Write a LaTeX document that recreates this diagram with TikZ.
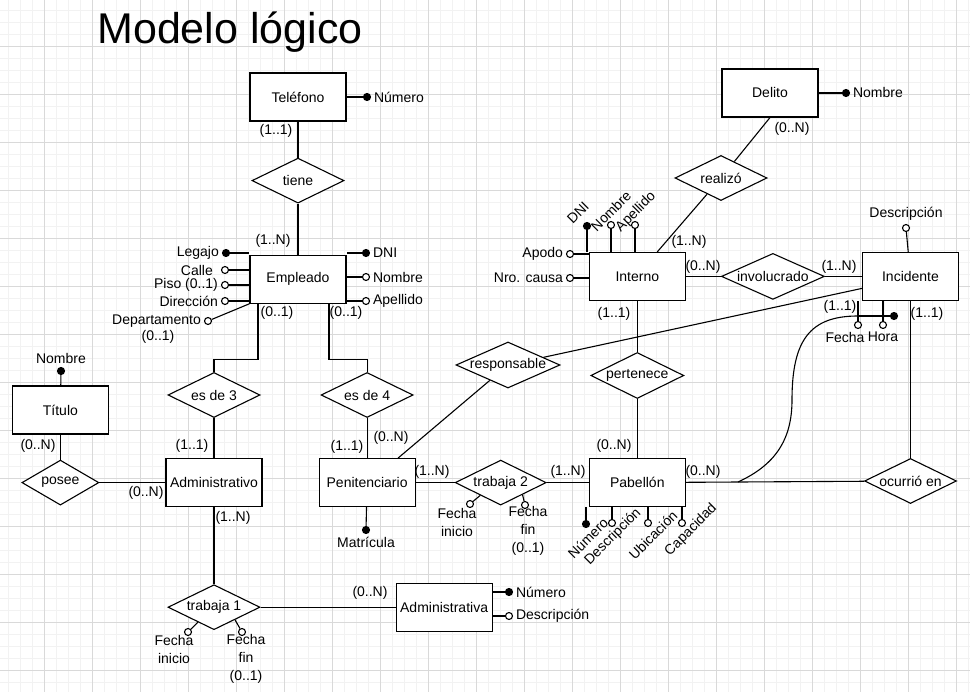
\documentclass[tikz,border=0pt]{standalone}
\usepackage{fontspec}
\setmainfont{Liberation Sans}
\usetikzlibrary{shapes.geometric, positioning}
\newcommand{\erfont}{\fontsize{14}{18}\selectfont}
\newcommand{\rtext}[1]{\makebox[0pt]{#1}}
\tikzstyle{entity} = [rectangle, minimum width=96pt, minimum height=48pt, inner sep=0pt, text centered, draw=black, fill=white, font=\erfont]
\tikzstyle{rel} = [diamond, minimum width=92pt, minimum height=45pt, inner sep=0pt, draw=black, fill=white, font=\erfont]
\tikzstyle{attr} = [circle, minimum size=7pt, inner sep=0pt, draw=black, fill=white]
\tikzstyle{keyattr} = [circle, minimum size=7pt, inner sep=0pt, draw=black, fill=black]
\tikzstyle{lbl} = [font=\erfont, inner sep=2.5pt, align=center]
\tikzstyle{card} = [font=\erfont, inner sep=0pt]
\tikzstyle{minorgrid} = [line width=0.6pt, black!5]
\tikzstyle{majorgrid} = [line width=0.8pt, black!15]

\begin{document}
\begin{tikzpicture}[x=1pt, y=-1pt, line width=1.1pt, every label/.style={lbl}]

 \useasboundingbox (0,0) rectangle (970,692);
 \fill[white] (0,0) rectangle (970,692);
 \foreach \x in {8,20,...,968} \draw[minorgrid] (\x,0) -- (\x,692);
 \foreach \y in {10,22,...,682} \draw[minorgrid] (0,\y) -- (970,\y);
 \foreach \x in {44,92,...,956} \draw[majorgrid] (\x,0) -- (\x,692);
 \foreach \y in {46,94,...,670} \draw[majorgrid] (0,\y) -- (970,\y);

 \node (title) [anchor=base, inner sep=0pt, font=\fontsize{43}{50}\selectfont] at (230,44) {Modelo lógico};

 \node (tel) [entity] at (298,97) {Teléfono};
 \node (tiene) [rel, below=36pt of tel] {\rtext{tiene}};
 \node (emp) [entity, below=51pt of tiene] {Empleado};
 \node (es3) [rel] at (214,395) {\rtext{es de 3}};
 \node (es4) [rel, right=60pt of es3] {\rtext{es de 4}};
 \node (adm) [entity, below=40pt of es3] {Administrativo};
 \node (peni) [entity, below=40pt of es4] {Penitenciario};
 \node (posee) [rel, minimum width=77pt, left=66pt of adm] {\rtext{posee}};
 \node (tit) [entity, above=25pt of posee] {Título};
 \node (trab1) [rel, below=77pt of adm] {\rtext{trabaja 1}};
 \node (admva) [entity, right=135pt of trab1] {Administrativa};
 \node (trab2) [rel, minimum width=91pt, right=39pt of peni] {\rtext{trabaja 2}};
 \node (pab) [entity, right=42pt of trab2] {Pabellón};
 \node (pert) [rel, minimum width=93pt, minimum height=46pt, above=59pt of pab] {\rtext{pertenece}};
 \node (int) [entity, above=51pt of pert] {Interno};
 \node (inv) [rel, minimum width=103pt, minimum height=46pt, right=35pt of int] {\rtext{involucrado}};
 \node (inc) [entity, right=37pt of inv] {Incidente};
 \node (ocu) [rel, below=157pt of inc] {\rtext{ocurrió en}};
 \node (real) [rel] at (721,178) {\rtext{realizó}};
 \node (del) [entity] at (770,93) {Delito};
 \node (resp) [rel, minimum width=104pt, minimum height=46pt] at (508,365) {\rtext{responsable}};

 \node (numTel) [keyattr, label=right:Número] at (367,97) {};
 \node (leg) [keyattr, label=left:Legajo] at (226,253) {};
 \node (calle) [attr, label={[xshift=-5pt]left:Calle}] at (225,270) {};
 \node (piso) [attr, label=left:Piso (0..1)] at (225,285) {};
 \node (dir) [attr, label=left:Dirección] at (225,301) {};
 \node (dep) [attr, label=left:Departamento] at (208,321) {};
 \node (dniE) [keyattr, label=right:DNI] at (366,253) {};
 \node (nomE) [attr, label=right:Nombre] at (366,277) {};
 \node (apeE) [attr, label=right:Apellido] at (366,301) {};
 \node (nomTit) [keyattr, label=above:Nombre] at (61,371) {};
 \node (matr) [keyattr, label=below:Matrícula] at (366,530) {};
 \node (fi1) [attr] at (188,632) {};
 \node (ff1) [attr] at (242,632) {};
 \node (fi2) [attr] at (470,504) {};
 \node (ff2) [attr] at (525,505) {};
 \node (numA) [keyattr, label=right:Número] at (509,592) {};
 \node (desA) [attr, label=right:Descripción] at (509,616) {};
 \node (nomD) [keyattr, label=right:Nombre] at (846,93) {};
 \node (apo) [attr, label=left:Apodo] at (570,254) {};
 \node (nro) [attr, label=left:Nro. causa] at (570,278) {};
 \node (dniI) [keyattr] at (587,226) {};
 \node (nomI) [attr] at (611,225) {};
 \node (apeI) [attr] at (635,225) {};
 \node (desInc) [attr, label=above:Descripción] at (906,228) {};
 \node (fec) [attr, label={[xshift=-13pt]below:Fecha}] at (858,325) {};
 \node (hor) [attr, label=below:Hora] at (883,325) {};
 \node (idInc) [keyattr] at (894,316) {};
 \node (numP) [keyattr] at (586,524) {};
 \node (desP) [attr] at (612,523) {};
 \node (ubiP) [attr] at (648,523) {};
 \node (capP) [attr] at (682,523) {};
 \coordinate (cv) at (738,482);

 \node (tDniI) [lbl, rotate=45] at (578,213) {DNI};
 \node (tNomI) [lbl, rotate=45] at (611,211) {Nombre};
 \node (tApeI) [lbl, rotate=45] at (636,212) {Apellido};
 \node (tNumP) [lbl, rotate=45] at (588,538) {Número};
 \node (tDesP) [lbl, rotate=45] at (613,537) {Descripción};
 \node (tUbiP) [lbl, rotate=45] at (653,535) {Ubicación};
 \node (tCapP) [lbl, rotate=45] at (691,530) {Capacidad};
 \node (tfi1) [lbl] at (174,649) {Fecha\\inicio};
 \node (tff1) [lbl] at (246,659) {Fecha\\fin\\(0..1)};
 \node (tfi2) [lbl] at (457,522) {Fecha\\inicio};
 \node (tff2) [lbl] at (528,531) {Fecha\\fin\\(0..1)};
 \node (tDep) [card] at (158,337) {(0..1)};

 \node (cTel) [card] at (276,131) {(1..1)};
 \node (cEmpT) [card] at (273,241) {(1..N)};
 \node (cEmpL) [card] at (277,313) {(0..1)};
 \node (cEmpR) [card] at (346,313) {(0..1)};
 \node (cAdmT) [card] at (192,446) {(1..1)};
 \node (cAdmL) [card] at (146,493) {(0..N)};
 \node (cAdmB) [card] at (233,518) {(1..N)};
 \node (cAdmva) [card] at (370,593) {(0..N)};
 \node (cTit) [card] at (38,446) {(0..N)};
 \node (cPeniT) [card] at (347,447) {(1..1)};
 \node (cPeniR) [card] at (391,438) {(0..N)};
 \node (cPeniE) [card] at (432,472) {(1..N)};
 \node (cPabL) [card] at (568,472) {(1..N)};
 \node (cPabT) [card] at (614,446) {(0..N)};
 \node (cPabR) [card] at (703,472) {(0..N)};
 \node (cIntB) [card] at (614,314) {(1..1)};
 \node (cIntT) [card] at (689,242) {(1..N)};
 \node (cIntR) [card] at (703,267) {(0..N)};
 \node (cIncL) [card] at (839,267) {(1..N)};
 \node (cIncB) [card] at (840,307) {(1..1)};
 \node (cIncR) [card] at (927,314) {(1..1)};
 \node (cDel) [card] at (792,129) {(0..N)};

 \draw (tel) -- (tiene);
 \draw (tiene) -- (emp);
 \draw ([xshift=-40pt]emp.south) -- ++(0,56) -| (es3.north);
 \draw ([xshift=31pt]emp.south) -- ++(0,56) -| (es4.north);
 \draw (es3) -- (adm);
 \draw (es4) -- (peni);
 \draw (tit) -- (posee);
 \draw (posee) -- (adm);
 \draw (adm) -- (trab1);
 \draw (trab1) -- (admva);
 \draw (peni) -- (trab2);
 \draw (trab2) -- (pab);
 \draw (pab) -- (pert);
 \draw (pert) -- (int);
 \draw (int) -- (inv);
 \draw (inv) -- (inc);
 \draw (inc) -- (ocu);
 \draw (pab) -- (ocu);
 \draw ([xshift=20pt]int.north) -- (real);
 \draw (real) -- (del.south);
 \draw ([xshift=31pt]peni.north) -- (resp);
 \draw (resp) -- ([yshift=-12pt]inc.west);

 \draw (numTel) -- (numTel -| tel.east);
 \draw (leg) -- (leg -| emp.west);
 \draw (calle) -- (calle -| emp.west);
 \draw (piso) -- (piso -| emp.west);
 \draw (dir) -- (dir -| emp.west);
 \draw (dep) -- (emp.south west);
 \draw (dniE) -- (dniE -| emp.east);
 \draw (nomE) -- (nomE -| emp.east);
 \draw (apeE) -- (apeE -| emp.east);
 \draw (nomTit) -- (tit);
 \draw (matr) -- (peni);
 \draw (fi1) -- (trab1.-137);
 \draw (ff1) -- (trab1.-31);
 \draw (fi2) -- (trab2.-148);
 \draw (ff2) -- (trab2.-29);
 \draw (numA) -- (numA -| admva.east);
 \draw (desA) -- (desA -| admva.east);
 \draw (nomD) -- (del);
 \draw (apo) -- (apo -| int.west);
 \draw (nro) -- (nro -| int.west);
 \draw (dniI) -- (dniI |- int.north);
 \draw (nomI) -- (nomI |- int.north);
 \draw (apeI) -- (apeI |- int.north);
 \draw (desInc) -- (inc);
 \draw (fec) -- (fec |- inc.south);
 \draw (hor) -- (hor |- inc.south);
 \draw (idInc) -- (idInc -| fec);
 \draw (cv) .. controls (775,465) and (792,440) .. (792,400) .. controls (792,340) and (810,316) .. (idInc -| fec);
 \draw (numP) -- (numP |- pab.south);
 \draw (desP) -- (desP |- pab.south);
 \draw (ubiP) -- (ubiP |- pab.south);
 \draw (capP) -- (capP |- pab.south);
\end{tikzpicture}
\end{document}
